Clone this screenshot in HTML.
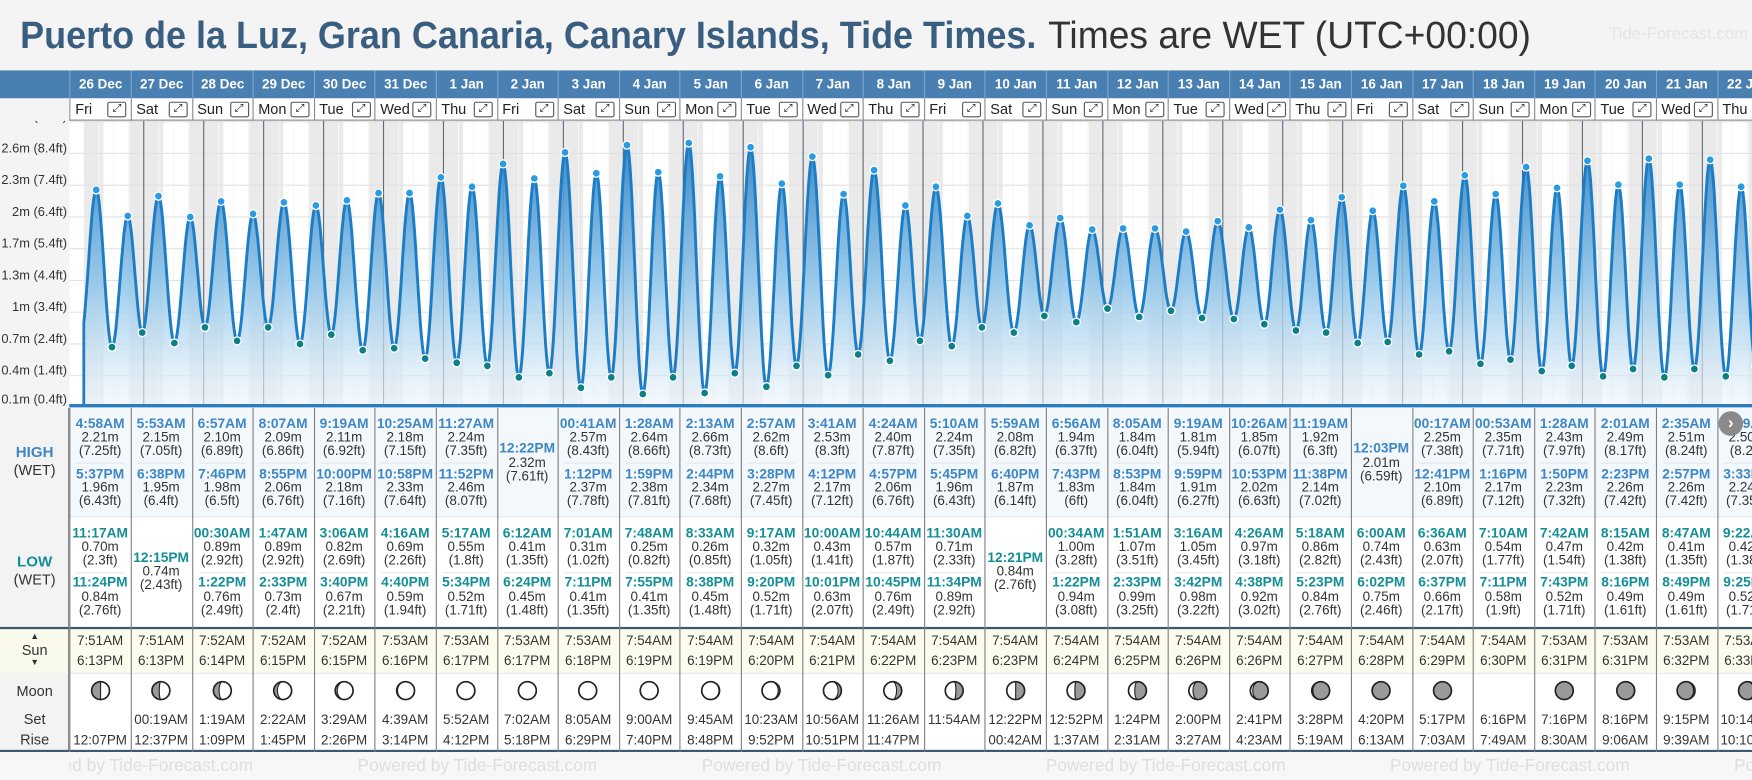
<!DOCTYPE html>
<html><head><meta charset="utf-8"><style>
html,body{margin:0;padding:0;width:1752px;height:780px;overflow:hidden;background:#f4f4f4;font-family:"Liberation Sans",sans-serif;}
#root{position:absolute;left:0;top:0;width:1568px;height:698px;transform:scale(1.11735,1.1175);transform-origin:0 0;background:#f4f4f4;overflow:hidden;}
.abs{position:absolute;}
.t{position:absolute;height:16px;line-height:16px;text-align:center;white-space:nowrap;font-size:12px;color:#333;}
.hb{font-weight:bold;color:#3f86c4;}
.lb{font-weight:bold;color:#148e97;}
</style></head><body>
<div id="root">
  <div class="abs" style="left:18px;top:11px;height:42px;line-height:42px;white-space:nowrap;font-size:34px;">
    <span id="tp1" style="display:inline-block;font-weight:bold;color:#3a5e80;transform-origin:0 50%;">Puerto de la Luz, Gran Canaria, Canary Islands, Tide Times.</span>
  </div>
  <div class="abs" style="left:938px;top:11px;height:42px;line-height:42px;white-space:nowrap;font-size:34px;">
    <span id="tp2" style="display:inline-block;color:#333;transform-origin:0 50%;">Times are WET (UTC+00:00)</span>
  </div>
  <div class="abs" style="left:1440px;top:22px;font-size:15px;color:#e4e4e4;white-space:nowrap;">Tide-Forecast.com</div>
  <svg id="chart" class="abs" style="left:0;top:0" width="1568" height="698"></svg>
  <div id="table"></div>
</div>
<script>
const days=['26 Dec','27 Dec','28 Dec','29 Dec','30 Dec','31 Dec','1 Jan','2 Jan','3 Jan','4 Jan','5 Jan','6 Jan','7 Jan','8 Jan','9 Jan','10 Jan','11 Jan','12 Jan','13 Jan','14 Jan','15 Jan','16 Jan','17 Jan','18 Jan','19 Jan','20 Jan','21 Jan','22 Jan'];
const weekdays=['Fri','Sat','Sun','Mon','Tue','Wed','Thu','Fri','Sat','Sun','Mon','Tue','Wed','Thu','Fri','Sat','Sun','Mon','Tue','Wed','Thu','Fri','Sat','Sun','Mon','Tue','Wed','Thu'];
const highTimes=[['4:58AM','5:37PM'],['5:53AM','6:38PM'],['6:57AM','7:46PM'],['8:07AM','8:55PM'],['9:19AM','10:00PM'],['10:25AM','10:58PM'],['11:27AM','11:52PM'],['12:22PM'],['00:41AM','1:12PM'],['1:28AM','1:59PM'],['2:13AM','2:44PM'],['2:57AM','3:28PM'],['3:41AM','4:12PM'],['4:24AM','4:57PM'],['5:10AM','5:45PM'],['5:59AM','6:40PM'],['6:56AM','7:43PM'],['8:05AM','8:53PM'],['9:19AM','9:59PM'],['10:26AM','10:53PM'],['11:19AM','11:38PM'],['12:03PM'],['00:17AM','12:41PM'],['00:53AM','1:16PM'],['1:28AM','1:50PM'],['2:01AM','2:23PM'],['2:35AM','2:57PM'],['3:09AM','3:33PM']];
const highM=[[2.21,1.96],[2.15,1.95],[2.10,1.98],[2.09,2.06],[2.11,2.18],[2.18,2.33],[2.24,2.46],[2.32],[2.57,2.37],[2.64,2.38],[2.66,2.34],[2.62,2.27],[2.53,2.17],[2.40,2.06],[2.24,1.96],[2.08,1.87],[1.94,1.83],[1.84,1.84],[1.81,1.91],[1.85,2.02],[1.92,2.14],[2.01],[2.25,2.10],[2.35,2.17],[2.43,2.23],[2.49,2.26],[2.51,2.26],[2.50,2.24]];
const highFt=[['7.25','6.43'],['7.05','6.4'],['6.89','6.5'],['6.86','6.76'],['6.92','7.16'],['7.15','7.64'],['7.35','8.07'],['7.61'],['8.43','7.78'],['8.66','7.81'],['8.73','7.68'],['8.6','7.45'],['8.3','7.12'],['7.87','6.76'],['7.35','6.43'],['6.82','6.14'],['6.37','6'],['6.04','6.04'],['5.94','6.27'],['6.07','6.63'],['6.3','7.02'],['6.59'],['7.38','6.89'],['7.71','7.12'],['7.97','7.32'],['8.17','7.42'],['8.24','7.42'],['8.2','7.35']];
const lowTimes=[['11:17AM','11:24PM'],['12:15PM'],['00:30AM','1:22PM'],['1:47AM','2:33PM'],['3:06AM','3:40PM'],['4:16AM','4:40PM'],['5:17AM','5:34PM'],['6:12AM','6:24PM'],['7:01AM','7:11PM'],['7:48AM','7:55PM'],['8:33AM','8:38PM'],['9:17AM','9:20PM'],['10:00AM','10:01PM'],['10:44AM','10:45PM'],['11:30AM','11:34PM'],['12:21PM'],['00:34AM','1:22PM'],['1:51AM','2:33PM'],['3:16AM','3:42PM'],['4:26AM','4:38PM'],['5:18AM','5:23PM'],['6:00AM','6:02PM'],['6:36AM','6:37PM'],['7:10AM','7:11PM'],['7:42AM','7:43PM'],['8:15AM','8:16PM'],['8:47AM','8:49PM'],['9:22AM','9:25PM']];
const lowM=[[0.70,0.84],[0.74],[0.89,0.76],[0.89,0.73],[0.82,0.67],[0.69,0.59],[0.55,0.52],[0.41,0.45],[0.31,0.41],[0.25,0.41],[0.26,0.45],[0.32,0.52],[0.43,0.63],[0.57,0.76],[0.71,0.89],[0.84],[1.00,0.94],[1.07,0.99],[1.05,0.98],[0.97,0.92],[0.86,0.84],[0.74,0.75],[0.63,0.66],[0.54,0.58],[0.47,0.52],[0.42,0.49],[0.41,0.49],[0.42,0.52]];
const lowFt=[['2.3','2.76'],['2.43'],['2.92','2.49'],['2.92','2.4'],['2.69','2.21'],['2.26','1.94'],['1.8','1.71'],['1.35','1.48'],['1.02','1.35'],['0.82','1.35'],['0.85','1.48'],['1.05','1.71'],['1.41','2.07'],['1.87','2.49'],['2.33','2.92'],['2.76'],['3.28','3.08'],['3.51','3.25'],['3.45','3.22'],['3.18','3.02'],['2.82','2.76'],['2.43','2.46'],['2.07','2.17'],['1.77','1.9'],['1.54','1.71'],['1.38','1.61'],['1.35','1.61'],['1.38','1.71']];
const prevLow={day:-1,time:'10:45PM',m:0.80};
const sunrise=['7:51AM','7:51AM','7:52AM','7:52AM','7:52AM','7:53AM','7:53AM','7:53AM','7:53AM','7:54AM','7:54AM','7:54AM','7:54AM','7:54AM','7:54AM','7:54AM','7:54AM','7:54AM','7:54AM','7:54AM','7:54AM','7:54AM','7:54AM','7:54AM','7:53AM','7:53AM','7:53AM','7:53AM'];
const sunset=['6:13PM','6:13PM','6:14PM','6:15PM','6:15PM','6:16PM','6:17PM','6:17PM','6:18PM','6:19PM','6:19PM','6:20PM','6:21PM','6:22PM','6:23PM','6:23PM','6:24PM','6:25PM','6:26PM','6:26PM','6:27PM','6:28PM','6:29PM','6:30PM','6:31PM','6:31PM','6:32PM','6:33PM'];
const moonSet=['','00:19AM','1:19AM','2:22AM','3:29AM','4:39AM','5:52AM','7:02AM','8:05AM','9:00AM','9:45AM','10:23AM','10:56AM','11:26AM','11:54AM','12:22PM','12:52PM','1:24PM','2:00PM','2:41PM','3:28PM','4:20PM','5:17PM','6:16PM','7:16PM','8:16PM','9:15PM','10:14PM'];
const moonRise=['12:07PM','12:37PM','1:09PM','1:45PM','2:26PM','3:14PM','4:12PM','5:18PM','6:29PM','7:40PM','8:48PM','9:52PM','10:51PM','11:47PM','','00:42AM','1:37AM','2:31AM','3:27AM','4:23AM','5:19AM','6:13AM','7:03AM','7:49AM','8:30AM','9:06AM','9:39AM','10:10AM'];
const moonPhase=[0.25,0.28,0.31,0.35,0.39,0.43,0.47,0.5,0.51,0.53,0.56,0.6,0.64,0.68,0.72,0.75,0.77,0.8,0.84,0.88,0.92,0.96,0.99,null,0.02,0.05,0.09,0.12];
const yTickFt=[0.4,1.4,2.4,3.4,4.4,5.4,6.4,7.4,8.4,9.4];
const yTickLabels=['0.1m (0.4ft)','0.4m (1.4ft)','0.7m (2.4ft)','1m (3.4ft)','1.3m (4.4ft)','1.7m (5.4ft)','2m (6.4ft)','2.3m (7.4ft)','2.6m (8.4ft)','2.9m (9.4ft)'];

const NS='http://www.w3.org/2000/svg';
const COL0=62.3, COLW=54.6;
const xT=t=>75+53.65*t;
const yM=m=>375.9-93.2*m;
function parseT(s){const pm=s.slice(-2)==='PM';const p=s.slice(0,-2).split(':');let h=parseInt(p[0],10);const mi=parseInt(p[1],10);if(pm&&h!==12)h+=12;if(!pm&&h===12)h=0;return (h+mi/60)/24;}
function se(tag,attrs,parent){const e=document.createElementNS(NS,tag);for(const k in attrs)e.setAttribute(k,attrs[k]);parent.appendChild(e);return e;}
const svg=document.getElementById('chart');
const defs=se('defs',{},svg);
const cp=se('clipPath',{id:'cp'},defs);se('rect',{x:62,y:108,width:1506,height:256},cp);
const lg=se('linearGradient',{id:'fillg',x1:0,y1:120,x2:0,y2:362,gradientUnits:'userSpaceOnUse'},defs);
se('stop',{offset:'0','stop-color':'#2a7fc4','stop-opacity':'0.95'},lg);
se('stop',{offset:'0.55','stop-color':'#8cc3e8','stop-opacity':'0.85'},lg);
se('stop',{offset:'1','stop-color':'#eef6fc','stop-opacity':'0.6'},lg);

// left axis background
const axbg=se('rect',{x:0,y:108,width:62,height:256,fill:'#f4f4f4'},svg);


const g=se('g',{'clip-path':'url(#cp)'},svg);
se('rect',{x:62,y:108,width:1506,height:256,fill:'#ffffff'},g);
// night bands
for(let d=0;d<days.length;d++){
  const r1=se('rect',{x:xT(d),y:108,width:xT(d+parseT(sunrise[d]))-xT(d),height:256,fill:'#eaeaea'},g);
  
  
  const r2=se('rect',{x:xT(d+parseT(sunset[d])),y:108,width:xT(d+1)-xT(d+parseT(sunset[d])),height:256,fill:'#eaeaea'},g);
  
  
  for(let q=1;q<4;q++){se('line',{x1:xT(d+q/4),x2:xT(d+q/4),y1:108,y2:362,stroke:'#f6f6f6','stroke-width':1},g);}
}
// horizontal gridlines
yTickFt.forEach(ft=>{const y=yM(ft/3.28084);se('line',{x1:62,x2:1568,y1:y,y2:y,stroke:'#e2e2e2','stroke-width':1},g);});
// midnight lines
for(let d=1;d<days.length;d++){const l=se('line',{x1:xT(d),x2:xT(d),y1:108,y2:362,stroke:'#5d6b79','stroke-width':1},g);
  
  }
// extremes
const ext=[{t:prevLow.day+parseT(prevLow.time),m:prevLow.m,hi:false,fake:true}];
for(let d=0;d<days.length;d++){
  highTimes[d].forEach((s,i)=>ext.push({t:d+parseT(s),m:highM[d][i],hi:true}));
  lowTimes[d].forEach((s,i)=>ext.push({t:d+parseT(s),m:lowM[d][i],hi:false}));
}
ext.sort((a,b)=>a.t-b.t);
let pts=[];
for(let i=0;i<ext.length-1;i++){const a=ext[i],b=ext[i+1];const N=16;
  for(let k=0;k<N;k++){const f=k/N;const tt=a.t+(b.t-a.t)*f;const mm=a.m+(b.m-a.m)*(1-Math.cos(Math.PI*f))/2;if(tt>=0)pts.push([xT(tt),yM(mm)]);
    if(tt<0&&a.t+(b.t-a.t)*((k+1)/N)>0){const f0=(0-a.t)/(b.t-a.t);pts.push([xT(0),yM(a.m+(b.m-a.m)*(1-Math.cos(Math.PI*f0))/2)]);}
  }}
const last=ext[ext.length-1];pts.push([xT(last.t),yM(last.m)]);
const ld=pts.map((p,i)=>(i?'L':'M')+p[0].toFixed(1)+','+p[1].toFixed(1)).join(' ');
const area=se('path',{d:ld+` L${pts[pts.length-1][0].toFixed(1)},362 L${xT(0)},362 Z`,fill:'url(#fillg)'},g);


const edge=se('line',{x1:xT(0),x2:xT(0),y1:pts[0][1],y2:362,stroke:'#1f7fc6','stroke-width':2.5},g);


const line=se('path',{d:ld,fill:'none',stroke:'#1b7dc5','stroke-width':2.6,'stroke-linejoin':'round'},g);


ext.forEach(e=>{if(e.fake)return;const c=se('circle',{cx:xT(e.t),cy:yM(e.m),r:3.6,fill:e.hi?'#2a9be0':'#0d7f88',stroke:'#ffffff','stroke-width':1.2},g);
  
  });
const base=se('line',{x1:62,x2:1568,y1:363,y2:363,stroke:'#2c7dc0','stroke-width':3},svg);


// y labels
const yl=se('g',{'clip-path':'url(#cpl)'},svg);
const cpl=se('clipPath',{id:'cpl'},defs);se('rect',{x:0,y:108,width:62,height:256},cpl);
yTickFt.forEach((ft,i)=>{let y=yM(ft/3.28084)-1;if(y>361)y=361;
  const tx=se('text',{x:60,y:y,'text-anchor':'end','font-size':'11.5','fill':'#333','font-family':'Liberation Sans, sans-serif'},yl);
  tx.textContent=yTickLabels[i];
  
  });

// ---------- HTML table ----------
const root=document.getElementById('root');
function div(cls,style,text,parent){const e=document.createElement('div');if(cls)e.className=cls;e.setAttribute('style',style);if(text!==undefined)e.textContent=text;(parent||root).appendChild(e);return e;}
let e;
// header bar
e=div('abs','left:0;top:63px;width:1568px;height:25px;background:#4a7fb2;');


e=div('abs','left:62px;top:88px;width:1506px;height:20px;background:#fff;border-bottom:1px solid #8a8a8a;box-sizing:border-box;');


// section backgrounds
e=div('abs','left:0;top:365px;width:1568px;height:97px;background:#f3f8fd;');


e=div('abs','left:0;top:462px;width:1568px;height:99px;background:#fff;border-top:1px solid #e6e6e6;box-sizing:border-box;');


e=div('abs','left:0;top:561px;width:1568px;height:41px;background:#fcfcee;border-top:2px solid #3d5873;box-sizing:border-box;');


e=div('abs','left:0;top:602px;width:1568px;height:71px;background:#fff;border-top:1px solid #e6e6e6;border-bottom:2px solid #3d5873;box-sizing:border-box;');


e=div('abs','left:0;top:673px;width:1568px;height:25px;background:#f7f7f7;');


for(let k=0;k<6;k++){e=div('abs','left:'+(12+308*k)+'px;top:677px;font-size:15.5px;color:#dedede;white-space:nowrap;','Powered by Tide-Forecast.com');
  
  }
// left label column
e=div('abs','left:0;top:365px;width:62px;height:196px;background:#f3f3f3;border-right:1px solid #777;box-sizing:border-box;');


e=div('abs','left:0;top:561px;width:62px;height:41px;background:#fafaec;border-top:2px solid #3d5873;border-right:1px solid #777;box-sizing:border-box;');
e=div('abs','left:0;top:602px;width:62px;height:71px;background:#f3f3f3;border-right:1px solid #777;border-bottom:2px solid #3d5873;box-sizing:border-box;');
e=div('abs','left:0;top:673px;width:62px;height:25px;background:#f7f7f7;');
e=div('t hb','left:0;top:397px;width:62px;font-size:13.5px;','HIGH');
e=div('t','left:0;top:413px;width:62px;font-size:13px;','(WET)');
e=div('t lb','left:0;top:495px;width:62px;font-size:13.5px;','LOW');
e=div('t','left:0;top:511px;width:62px;font-size:13px;','(WET)');
e=div('t','left:0;top:566px;width:62px;font-size:8px;height:8px;line-height:8px;','▲');
e=div('t','left:0;top:574px;width:62px;font-size:13px;','Sun');
e=div('t','left:0;top:589px;width:62px;font-size:8px;height:8px;line-height:8px;','▼');
e=div('t','left:0;top:611px;width:62px;font-size:13px;','Moon');
e=div('t','left:0;top:636px;width:62px;font-size:13px;','Set');
e=div('t','left:0;top:654px;width:62px;font-size:13px;','Rise');

function moonSvg(p){
  const r=8,cx=10,cy=10;let s='<svg width="20" height="20" style="position:absolute;left:0;top:0">';
  s+=`<circle cx="${cx}" cy="${cy}" r="${r}" fill="#9a9a9a"/>`;
  const rx=Math.abs(Math.cos(2*Math.PI*p))*r;
  let d;
  if(p<=0.5){const crescent=p<0.25;d=`M${cx},${cy-r} A${r},${r} 0 0 1 ${cx},${cy+r} A${rx.toFixed(2)},${r} 0 0 ${crescent?0:1} ${cx},${cy-r} Z`;}
  else{const crescent=p>0.75;d=`M${cx},${cy-r} A${r},${r} 0 0 0 ${cx},${cy+r} A${rx.toFixed(2)},${r} 0 0 ${crescent?1:0} ${cx},${cy-r} Z`;}
  s+=`<path d="${d}" fill="#fff" stroke="#222" stroke-width="1"/>`;
  s+=`<circle cx="${cx}" cy="${cy}" r="${r}" fill="none" stroke="#222" stroke-width="1.5"/></svg>`;return s;}

for(let d=0;d<days.length;d++){
  const x0=COL0+COLW*d;
  e=div('abs',`left:${x0}px;top:63px;width:${COLW}px;height:25px;line-height:25px;text-align:center;color:#fff;font-weight:bold;font-size:12px;border-left:1px solid #7ea5cc;box-sizing:border-box;white-space:nowrap;`,days[d]);
  
  
  e=div('abs',`left:${x0}px;top:88px;width:${COLW}px;height:20px;border-left:1px solid #8a8a8a;box-sizing:border-box;`);
  e=div('abs',`left:${x0+5}px;top:88px;height:20px;line-height:20px;font-size:13px;color:#222;`,weekdays[d]);
  
  
  e=div('abs',`left:${x0+34}px;top:90.5px;width:17px;height:14px;border:1px solid #555;border-radius:2px;box-sizing:border-box;font-size:10px;line-height:12px;text-align:center;color:#222;background:#fff;`,'⤢');
  
  
  // column divider through table
  e=div('abs',`left:${x0}px;top:365px;width:1px;height:308px;background:#808080;`);
  // high
  const ht=highTimes[d];
  const hc=ht.length===2?[378.8,423.6]:[401];
  ht.forEach((s,i)=>{const c=hc[i];
    e=div('t hb',`left:${x0}px;top:${c-8}px;width:${COLW}px;font-size:12.3px;`,s);
    
    
    div('t',`left:${x0}px;top:${c+4.5}px;width:${COLW}px;`,highM[d][i].toFixed(2)+'m');
    div('t',`left:${x0}px;top:${c+16.5}px;width:${COLW}px;`,'('+highFt[d][i]+'ft)');});
  if(ht.length===2)div('abs',`left:${x0+6}px;top:414px;width:${COLW-12}px;height:1px;background:#e3e8ee;`);
  const lt=lowTimes[d];
  const lc=lt.length===2?[476.7,521]:[498.7];
  lt.forEach((s,i)=>{const c=lc[i];
    e=div('t lb',`left:${x0}px;top:${c-8}px;width:${COLW}px;font-size:12.3px;`,s);
    
    
    div('t',`left:${x0}px;top:${c+4.5}px;width:${COLW}px;`,lowM[d][i].toFixed(2)+'m');
    div('t',`left:${x0}px;top:${c+16.5}px;width:${COLW}px;`,'('+lowFt[d][i]+'ft)');});
  if(lt.length===2)div('abs',`left:${x0+6}px;top:512px;width:${COLW-12}px;height:1px;background:#e8e8e8;`);
  e=div('t',`left:${x0}px;top:564.7px;width:${COLW}px;`,sunrise[d]);
  
  
  e=div('t',`left:${x0}px;top:582.8px;width:${COLW}px;`,sunset[d]);
  
  
  if(moonPhase[d]!==null){e=div('abs',`left:${x0+COLW/2-10}px;top:608px;width:20px;height:20px;`);e.innerHTML=moonSvg(moonPhase[d]);
    
    }
  e=div('t',`left:${x0}px;top:636px;width:${COLW}px;`,moonSet[d]);
  
  
  e=div('t',`left:${x0}px;top:654px;width:${COLW}px;`,moonRise[d]);
  
  
}
e=div('abs','left:0;top:88px;width:62px;height:20px;background:#f4f4f4;');
e=div('abs','left:1538px;top:368px;width:22px;height:22px;border-radius:11px;background:#8a8a8a;color:#fff;text-align:center;line-height:21px;font-size:15px;font-weight:bold;','›');


// fit title widths
const t1=document.getElementById('tp1'),t2=document.getElementById('tp2');
t1.style.transform='scaleX('+(910/t1.offsetWidth)+')';
t2.style.transform='scaleX('+(432/t2.offsetWidth)+')';
</script>
</body></html>
